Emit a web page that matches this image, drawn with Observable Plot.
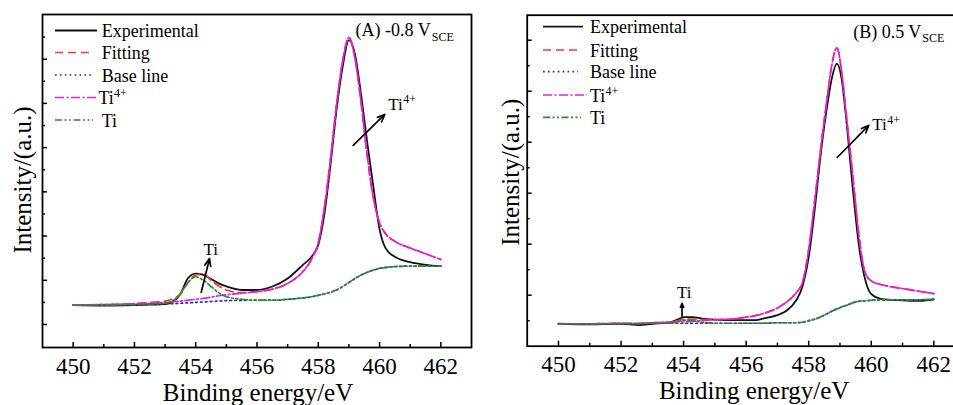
<!DOCTYPE html>
<html><head><meta charset="utf-8">
<script src="https://cdn.jsdelivr.net/npm/d3@7"></script>
<script src="https://cdn.jsdelivr.net/npm/@observablehq/plot@0.6"></script>
<style>
html,body{margin:0;padding:0;background:#fff;overflow:hidden;}
#wrap{position:relative;width:953px;height:405px;overflow:hidden;background:#fff;}
#wrap svg{position:absolute;top:0;}
</style></head><body><div id="wrap"></div>
<script>
// ---------- DATA ----------
const seriesNames = ["Experimental", "Fitting", "Base line", "Ti4+", "Ti"];
const xTickLabels = [450, 452, 454, 456, 458, 460, 462];
const xMinorTicks = [451, 453, 455, 457, 459, 461];

// Panel A: -0.8 V_SCE
const energyA = [450, 451, 452, 452.5, 453, 453.25, 453.5, 453.75, 454, 454.25, 454.5, 454.75, 455, 455.5, 456, 456.5, 457, 457.5, 457.8, 458, 458.2, 458.4, 458.6, 458.8, 459, 459.2, 459.4, 459.6, 459.8, 460, 460.2, 460.5, 461, 461.5, 462];
const expA  = [0.44, 0.43, 0.44, 0.45, 0.46, 0.52, 0.69, 1.05, 1.15, 1.12, 1.03, 0.93, 0.86, 0.78, 0.78, 0.86, 1.04, 1.35, 1.55, 1.8, 2.5, 3.62, 4.88, 5.85, 6.43, 6.1, 5.18, 4.1, 3.1, 2.15, 1.72, 1.53, 1.41, 1.35, 1.32];
const fitA  = [0.44, 0.45, 0.47, 0.5, 0.53, 0.58, 0.68, 0.95, 1.12, 1.14, 1.0, 0.87, 0.78, 0.72, 0.75, 0.8, 0.93, 1.2, 1.5, 1.85, 2.65, 3.75, 5.0, 5.98, 6.49, 6.0, 5.0, 3.8, 2.85, 2.3, 2.05, 1.88, 1.73, 1.6, 1.47];
const baseA = [0.44, 0.44, 0.45, 0.46, 0.47, 0.47, 0.48, 0.49, 0.5, 0.51, 0.52, 0.53, 0.54, 0.545, 0.55, 0.55, 0.57, 0.6, 0.63, 0.66, 0.69, 0.73, 0.78, 0.86, 0.95, 1.04, 1.12, 1.18, 1.23, 1.27, 1.29, 1.31, 1.32, 1.32, 1.32];
const ti4A  = [0.44, 0.45, 0.47, 0.48, 0.5, 0.51, 0.53, 0.55, 0.57, 0.59, 0.62, 0.65, 0.67, 0.71, 0.74, 0.8, 0.93, 1.2, 1.5, 1.85, 2.65, 3.75, 5.0, 5.98, 6.49, 6.0, 5.0, 3.8, 2.85, 2.3, 2.05, 1.88, 1.73, 1.6, 1.47];
const tiA   = [0.44, 0.44, 0.45, 0.46, 0.48, 0.53, 0.7, 0.95, 1.08, 1.0, 0.86, 0.72, 0.63, 0.57, 0.55, 0.55, 0.57, 0.6, 0.63, 0.66, 0.69, 0.73, 0.78, 0.86, 0.95, 1.04, 1.12, 1.18, 1.23, 1.27, 1.29, 1.31, 1.32, 1.32, 1.32];

// Panel B: 0.5 V_SCE
const energyB = [450, 451, 452, 452.6, 453, 453.5, 453.8, 454, 454.3, 454.6, 455, 455.5, 456, 456.3, 456.6, 457, 457.3, 457.6, 457.8, 458, 458.2, 458.4, 458.6, 458.75, 458.9, 459.05, 459.2, 459.4, 459.6, 459.8, 460, 460.3, 460.6, 461, 461.5, 462];
const expB  = [-0.56, -0.57, -0.56, -0.585, -0.56, -0.54, -0.48, -0.43, -0.43, -0.46, -0.48, -0.49, -0.49, -0.49, -0.45, -0.39, -0.3, -0.1, 0.17, 0.75, 1.72, 2.85, 3.75, 4.28, 4.54, 4.25, 3.45, 2.15, 1.0, 0.32, 0.02, -0.07, -0.09, -0.1, -0.11, -0.08];
const fitB  = [-0.56, -0.56, -0.55, -0.55, -0.54, -0.53, -0.5, -0.47, -0.47, -0.48, -0.48, -0.47, -0.43, -0.4, -0.35, -0.25, -0.13, 0.05, 0.25, 0.9, 1.9, 2.95, 3.92, 4.55, 4.85, 4.4, 3.55, 2.4, 1.2, 0.45, 0.28, 0.21, 0.17, 0.13, 0.08, 0.03];
const baseB = [-0.56, -0.56, -0.56, -0.56, -0.55, -0.55, -0.55, -0.55, -0.55, -0.55, -0.55, -0.55, -0.55, -0.55, -0.55, -0.54, -0.54, -0.54, -0.53, -0.5, -0.47, -0.42, -0.36, -0.31, -0.27, -0.23, -0.2, -0.15, -0.12, -0.11, -0.1, -0.09, -0.09, -0.09, -0.09, -0.08];
const ti4B  = [-0.56, -0.56, -0.55, -0.55, -0.54, -0.53, -0.52, -0.52, -0.51, -0.5, -0.48, -0.47, -0.43, -0.4, -0.35, -0.25, -0.13, 0.05, 0.25, 0.9, 1.9, 2.95, 3.92, 4.55, 4.85, 4.4, 3.55, 2.4, 1.2, 0.45, 0.28, 0.21, 0.17, 0.13, 0.08, 0.03];
const tiB   = [-0.56, -0.56, -0.56, -0.56, -0.55, -0.55, -0.52, -0.49, -0.5, -0.53, -0.55, -0.55, -0.55, -0.55, -0.55, -0.54, -0.54, -0.54, -0.53, -0.5, -0.47, -0.42, -0.36, -0.31, -0.27, -0.23, -0.2, -0.15, -0.12, -0.11, -0.1, -0.09, -0.09, -0.09, -0.09, -0.08];

// annotations (data coordinates)
const arrowsA = [{x1: 459.14, y1: 4.05, x2: 460.17, y2: 4.75}, {x1: 454.18, y1: 0.73, x2: 454.45, y2: 1.49}];
const labelsA = [{x: 460.28, y: 4.86, t: "Ti", sup: "4+", sy: 5.0}, {x: 454.25, y: 1.58, t: "Ti", sup: "", sy: 0}];
const titleA = {x: 461.67, y: 6.52, main: "(A) -0.8 V", sub: "SCE", subY: 6.42};
const arrowsB = [{x1: 458.91, y1: 2.7, x2: 459.92, y2: 3.33}, {x1: 453.95, y1: -0.41, x2: 453.95, y2: -0.16}];
const labelsB = [{x: 460.03, y: 3.23, t: "Ti", sup: "4+", sy: 3.35}, {x: 453.79, y: -0.05, t: "Ti", sup: "", sy: 0}];
const titleB = {x: 461.6, y: 5.04, main: "(B) 0.5 V", sub: "SCE", subY: 4.97};

// ---------- STYLE ----------
const FONT = "Liberation Serif";
const styles = [
  {stroke: "#111111", dash: null, w: 1.8},
  {stroke: "#f03a32", dash: "8,5", w: 1.7},
  {stroke: "#2a2ab8", dash: "1.7,3.2", w: 1.7},
  {stroke: "#e21ee2", dash: "9,2.5,2,2.5", w: 1.7},
  {stroke: "#2e8a2e", dash: "7,2.5,2,2.5,2,2.5", w: 1.7}
];

function panel(o) {
  const marks = [];
  const vals = [o.exp, o.fit, o.base, o.ti4, o.ti];
  vals.forEach((arr, k) => {
    const data = arr.map((v, i) => ({e: o.energy[i], v}));
    marks.push(Plot.line(data, {x: "e", y: "v", stroke: styles[k].stroke, strokeWidth: styles[k].w,
      strokeDasharray: styles[k].dash, curve: "monotone-x"}));
  });
  marks.push(Plot.frame({stroke: "#000", strokeWidth: 1.8}));
  // inward ticks only (no text)
  marks.push(Plot.axisX({ticks: xTickLabels, tickSize: -5, fill: "none", label: null, strokeWidth: 1.5}));
  marks.push(Plot.axisX({ticks: xMinorTicks, tickSize: -3, fill: "none", label: null, strokeWidth: 1.5}));
  marks.push(Plot.axisY({ticks: o.yMajor, tickSize: -5, fill: "none", label: null, strokeWidth: 1.5}));
  marks.push(Plot.axisY({ticks: o.yMinor, tickSize: -3, fill: "none", label: null, strokeWidth: 1.5}));
  // tick labels
  marks.push(Plot.text(xTickLabels, {x: d => d, text: d => String(d), frameAnchor: "bottom", dy: 26,
    lineAnchor: "bottom", textAnchor: "middle", fontSize: 23, fontFamily: FONT, fill: "#000"}));
  // axis titles
  marks.push(Plot.text(["Intensity/(a.u.)"], {text: d => d, frameAnchor: "left", rotate: -90, dx: o.ylabDx, dy: o.ylabDy,
    textAnchor: "middle", fontSize: 25, fontFamily: FONT, fill: "#000"}));
  marks.push(Plot.text(["Binding energy/eV"], {text: d => d, frameAnchor: "bottom", dx: o.xlabDx, dy: 53,
    textAnchor: "middle", lineAnchor: "bottom", fontSize: 25, fontFamily: FONT, fill: "#000"}));
  // arrows
  marks.push(Plot.arrow(o.arrows, {x1: "x1", y1: "y1", x2: "x2", y2: "y2", stroke: "#000", strokeWidth: 1.7,
    headLength: 7, headAngle: 45}));
  // annotation labels
  marks.push(Plot.text(o.labels, {x: "x", y: "y", text: "t", textAnchor: "start", lineAnchor: "bottom",
    fontSize: 17, fontFamily: FONT, fill: "#000"}));
  marks.push(Plot.text(o.labels.filter(d => d.sup), {x: "x", y: "sy", text: "sup", textAnchor: "start", lineAnchor: "bottom",
    dx: 15, fontSize: 12, fontFamily: FONT, fill: "#000"}));
  // title
  marks.push(Plot.text([o.title], {x: "x", y: "y", text: "main", textAnchor: "end", lineAnchor: "bottom",
    fontSize: 18, fontFamily: FONT, fill: "#000"}));
  marks.push(Plot.text([o.title], {x: "x", y: "subY", text: "sub", textAnchor: "start", lineAnchor: "bottom",
    dx: 1, fontSize: 12, fontFamily: FONT, fill: "#000"}));

  const svg = Plot.plot({
    width: o.width, height: 405,
    marginLeft: o.ml, marginRight: o.mr, marginTop: o.mt, marginBottom: o.mb,
    x: {domain: [449, 463]},
    y: {domain: o.yDomain},
    style: {fontFamily: FONT, background: "white", color: "#000", overflow: "visible"},
    marks
  });
  // legend
  const g = d3.select(svg).append("g").attr("font-family", FONT).attr("font-size", 18)
    .attr("fill", "#000").attr("text-anchor", "start");
  seriesNames.forEach((name, i) => {
    const y = o.legRows[i];
    g.append("line").attr("x1", o.legX1).attr("x2", o.legX2[i]).attr("y1", y).attr("y2", y)
      .attr("stroke", styles[i].stroke).attr("stroke-width", styles[i].w)
      .attr("stroke-dasharray", styles[i].dash);
    const t = g.append("text").attr("x", o.legTx[i]).attr("y", y + 6.5).attr("text-anchor", "start");
    if (name === "Ti4+") {
      t.append("tspan").text("Ti");
      t.append("tspan").attr("font-size", 12).attr("dy", -7).text("4+");
    } else t.text(name);
  });
  svg.style.left = o.left + "px";
  return svg;
}

const wrap = document.getElementById("wrap");
wrap.appendChild(panel({
  left: 0, width: 480, ml: 42, mr: 9, mt: 14, mb: 58,
  energy: energyA, exp: expA, fit: fitA, base: baseA, ti4: ti4A, ti: tiA,
  yDomain: [-0.52, 7.01], yMajor: [0, 1, 2, 3, 4, 5, 6], yMinor: [0.5, 1.5, 2.5, 3.5, 4.5, 5.5, 6.5],
  ylabDx: -19.5, ylabDy: -1, xlabDx: 1,
  arrows: arrowsA, labels: labelsA, title: titleA,
  legRows: [30.5, 52.5, 75, 97.5, 120], legX1: 55, legX2: [97, 90, 92, 98, 93], legTx: [101.7, 101.7, 101.7, 98.5, 101.7]
}));
wrap.appendChild(panel({
  left: 480, width: 494, ml: 46.7, mr: 9.4, mt: 14.7, mb: 59.3,
  energy: energyB, exp: expB, fit: fitB, base: baseB, ti4: ti4B, ti: tiB,
  yDomain: [-1.0, 5.49], yMajor: [0, 1, 2, 3, 4, 5], yMinor: [-0.5, 0.5, 1.5, 2.5, 3.5, 4.5],
  ylabDx: -16, ylabDy: -8.5, xlabDx: 8,
  arrows: arrowsB, labels: labelsB, title: titleB,
  legRows: [26.7, 50, 71.7, 95, 117.3], legX1: 63, legX2: [103, 98, 98, 107, 101], legTx: [110, 110, 110, 110, 110]
}));
</script></body></html>
